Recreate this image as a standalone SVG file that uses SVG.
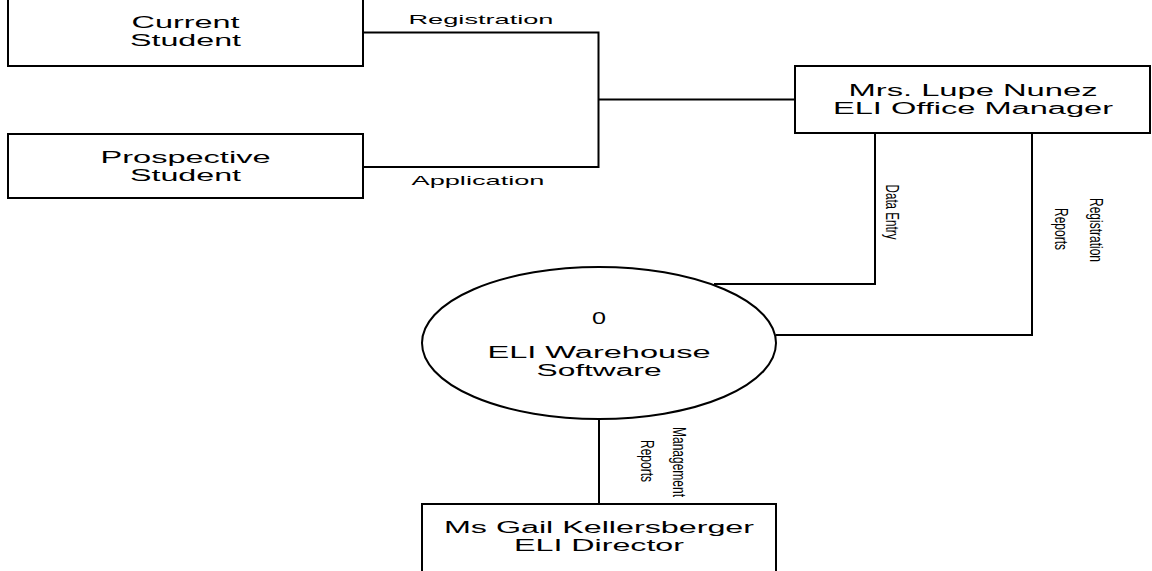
<svg xmlns="http://www.w3.org/2000/svg" width="1152" height="571" viewBox="0 0 1152 571">
<style>
.box{fill:#fff;stroke:#000;stroke-width:2}
.ln{fill:none;stroke:#000;stroke-width:2}
.t{font-family:"Liberation Sans",Arial,sans-serif;font-size:16px;fill:#000;text-anchor:middle;dominant-baseline:central}
.l{font-family:"Liberation Sans",Arial,sans-serif;font-size:13.5px;fill:#000;text-anchor:middle;dominant-baseline:central}
.r{font-family:"Liberation Sans",Arial,sans-serif;font-size:19px;fill:#000;text-anchor:middle;dominant-baseline:central}
</style>
<rect width="1152" height="571" fill="#fff"/>
<g id="connectors">
<polyline class="ln" points="363,32.5 598.5,32.5 598.5,167 363,167"/>
<line class="ln" x1="598.5" y1="99.5" x2="795" y2="99.5"/>
<polyline class="ln" points="875,133 875,284 714,284"/>
<polyline class="ln" points="1032,133 1032,335 776,335"/>
<line class="ln" x1="599" y1="419" x2="599" y2="504"/>
<text class="l" x="481" y="19" textLength="145" lengthAdjust="spacingAndGlyphs">Registration</text>
<text class="l" x="478" y="180" textLength="133" lengthAdjust="spacingAndGlyphs">Application</text>
<text class="r" transform="translate(892,212) rotate(90)" textLength="55" lengthAdjust="spacingAndGlyphs">Data Entry</text>
<text class="r" transform="translate(1096,230) rotate(90)" textLength="64" lengthAdjust="spacingAndGlyphs">Registration</text>
<text class="r" transform="translate(1061,229) rotate(90)" textLength="42" lengthAdjust="spacingAndGlyphs">Reports</text>
<text class="r" transform="translate(679,462) rotate(90)" textLength="70" lengthAdjust="spacingAndGlyphs">Management</text>
<text class="r" transform="translate(647,461) rotate(90)" textLength="42" lengthAdjust="spacingAndGlyphs">Reports</text>
</g>
<g id="current-student">
<rect class="box" x="8" y="-4" width="355" height="70"/>
<text class="t" x="185.5" y="22" textLength="108" lengthAdjust="spacingAndGlyphs">Current</text>
<text class="t" x="185.5" y="40" textLength="111" lengthAdjust="spacingAndGlyphs">Student</text>
</g>
<g id="prospective-student">
<rect class="box" x="8" y="134" width="355" height="64"/>
<text class="t" x="185.5" y="157" textLength="170" lengthAdjust="spacingAndGlyphs">Prospective</text>
<text class="t" x="185.5" y="175" textLength="111" lengthAdjust="spacingAndGlyphs">Student</text>
</g>
<g id="office-manager">
<rect class="box" x="795" y="66" width="355" height="67"/>
<text class="t" x="973" y="90" textLength="249" lengthAdjust="spacingAndGlyphs">Mrs. Lupe Nunez</text>
<text class="t" x="973" y="108" textLength="280" lengthAdjust="spacingAndGlyphs">ELI Office Manager</text>
</g>
<g id="process-0">
<ellipse class="box" cx="599" cy="343" rx="177" ry="76"/>
<text class="t" x="599" y="318" textLength="14" lengthAdjust="spacingAndGlyphs">0</text>
<text class="t" x="599" y="352" textLength="223" lengthAdjust="spacingAndGlyphs">ELI Warehouse</text>
<text class="t" x="599" y="370" textLength="125" lengthAdjust="spacingAndGlyphs">Software</text>
</g>
<g id="director">
<rect class="box" x="422" y="504" width="354" height="80"/>
<text class="t" x="599" y="527" textLength="310" lengthAdjust="spacingAndGlyphs">Ms Gail Kellersberger</text>
<text class="t" x="599" y="545" textLength="170" lengthAdjust="spacingAndGlyphs">ELI Director</text>
</g>
</svg>
